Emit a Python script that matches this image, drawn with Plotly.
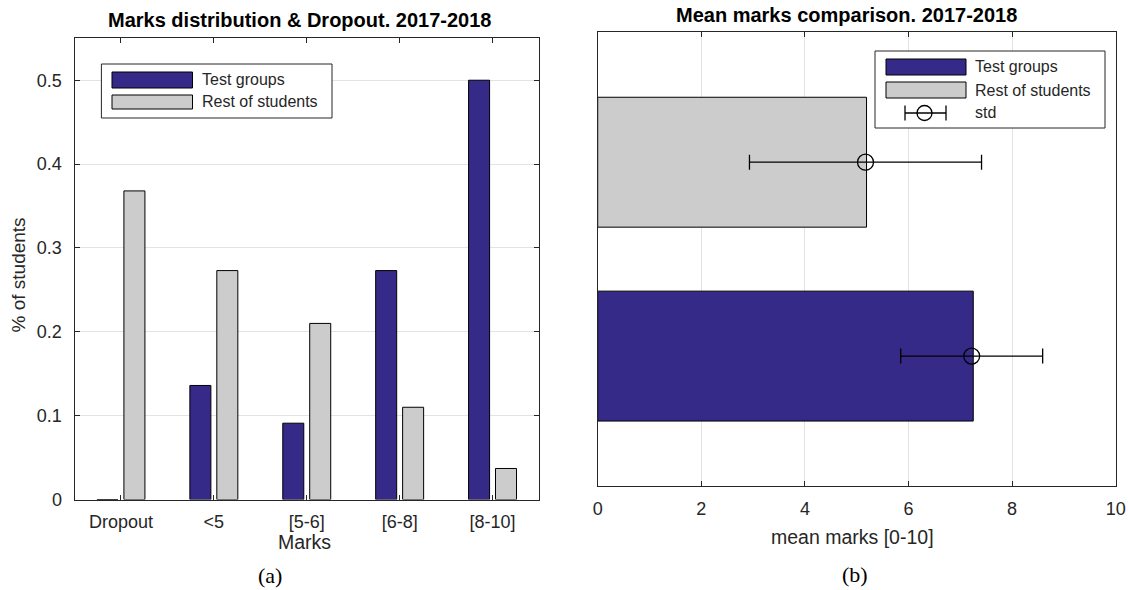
import plotly.graph_objects as go

# ---------------- data ----------------
categories = ["Dropout", "<5", "[5-6]", "[6-8]", "[8-10]"]
test_groups = [0.0, 0.136, 0.091, 0.273, 0.5]
rest_students = [0.368, 0.273, 0.21, 0.11, 0.037]

groups = ["Test groups", "Rest of students"]
mean_marks = [7.25, 5.19]
std_marks = [1.37, 2.24]
circle_pos = [7.22, 5.17]

NAVY = "#352A87"
GRAY = "#CCCCCC"
AX = "#262626"
GRID = "#E3E3E3"
FONT = "Liberation Sans, Arial, sans-serif"
SERIF = "Liberation Serif, Times New Roman, serif"

W, H = 1128, 590
def px(x):
    return x / W
def py(y):
    return 1 - y / H

fig = go.Figure()

cat_pos = list(range(1, len(categories) + 1))
fig.add_trace(go.Bar(x=cat_pos, y=test_groups, name="Test groups",
                     marker=dict(color=NAVY, line=dict(color="black", width=1)),
                     xaxis="x", yaxis="y", showlegend=False))
fig.add_trace(go.Bar(x=cat_pos, y=rest_students, name="Rest of students",
                     marker=dict(color=GRAY, line=dict(color="black", width=1)),
                     xaxis="x", yaxis="y", showlegend=False))

grp_pos = [1, 2]
fig.add_trace(go.Bar(y=[grp_pos[0]], x=[mean_marks[0]], orientation="h", width=0.67,
                     marker=dict(color=NAVY, line=dict(color="black", width=1)),
                     xaxis="x2", yaxis="y2", showlegend=False))
fig.add_trace(go.Bar(y=[grp_pos[1]], x=[mean_marks[1]], orientation="h", width=0.67,
                     marker=dict(color=GRAY, line=dict(color="black", width=1)),
                     xaxis="x2", yaxis="y2", showlegend=False))
fig.add_trace(go.Scatter(x=circle_pos, y=grp_pos, mode="markers",
                         marker=dict(symbol="circle-open", size=16, color="black",
                                     line=dict(width=1.3, color="black")),
                         error_x=dict(type="data", array=std_marks, color="black",
                                      thickness=1.3, width=7.5),
                         xaxis="x2", yaxis="y2", showlegend=False))

tickfont = dict(family=FONT, size=18, color=AX)

fig.update_layout(
    width=W, height=H,
    margin=dict(l=0, r=0, t=0, b=0, pad=0),
    paper_bgcolor="white", plot_bgcolor="white",
    barmode="group", bargap=0.42, bargroupgap=0.22,
    xaxis=dict(domain=[px(74.5), px(539)], range=[0.5, 5.5], automargin=False,
               tickvals=cat_pos, ticktext=categories,
               ticks="inside", ticklen=5, tickcolor=AX, tickfont=tickfont,
               ticklabelstandoff=6,
               showline=True, linecolor=AX, linewidth=1, mirror="ticks",
               showgrid=False, zeroline=False, fixedrange=True, anchor="y"),
    yaxis=dict(domain=[py(499.5), py(38.3)], range=[0, 0.55], automargin=False,
               tickvals=[0, 0.1, 0.2, 0.3, 0.4, 0.5],
               ticktext=["0", "0.1", "0.2", "0.3", "0.4", "0.5"],
               ticks="inside", ticklen=5, tickcolor=AX, tickfont=tickfont,
               ticklabelstandoff=8,
               showline=True, linecolor=AX, linewidth=1, mirror="ticks",
               showgrid=True, gridcolor=GRID, gridwidth=1, zeroline=False, anchor="x"),
    xaxis2=dict(domain=[px(597.7), px(1115.7)], range=[0, 10], automargin=False,
                tickvals=[0, 2, 4, 6, 8, 10],
                ticks="inside", ticklen=5, tickcolor=AX, tickfont=tickfont,
                ticklabelstandoff=6,
                showline=True, linecolor=AX, linewidth=1, mirror="ticks",
                showgrid=True, gridcolor=GRID, gridwidth=1, zeroline=False, anchor="y2"),
    yaxis2=dict(domain=[py(486), py(32.3)], range=[0.33, 2.67], automargin=False,
                showticklabels=False, ticks="",
                showline=True, linecolor=AX, linewidth=1, mirror=True,
                showgrid=False, zeroline=False, anchor="x2"),
)

shapes = []
annotations = []

def rect(x0, y0, x1, y1, fill, lw=1):
    shapes.append(dict(type="rect", xref="paper", yref="paper",
                       x0=px(x0), x1=px(x1), y0=py(y1), y1=py(y0),
                       fillcolor=fill, line=dict(color=AX if fill == "white" else "black", width=lw),
                       layer="above"))

def text(x, y, s, size=16, anchor="left", bold=False, family=FONT, color=AX, angle=0):
    annotations.append(dict(xref="paper", yref="paper", x=px(x), y=py(y),
                            text=f"<b>{s}</b>" if bold else s, showarrow=False,
                            xanchor=anchor, yanchor="middle", textangle=angle,
                            font=dict(family=family, size=size, color=color)))

# left legend
rect(101.4, 64, 332, 118, "white")
rect(112, 72, 192.5, 88, NAVY)
rect(112, 95, 192.5, 109, GRAY)
text(200, 80, "Test groups")
text(200, 102, "Rest of students")

# right legend
rect(875, 51, 1105, 128, "white")
rect(886, 59, 966, 75, NAVY)
rect(886, 82, 966, 98, GRAY)
text(972.5, 67, "Test groups")
text(972.5, 90, "Rest of students")
text(972.5, 113, "std")
shapes.append(dict(type="line", xref="paper", yref="paper", x0=px(905), x1=px(946),
                   y0=py(113), y1=py(113), line=dict(color="black", width=1.3), layer="above"))
for cx in (905, 946):
    shapes.append(dict(type="line", xref="paper", yref="paper", x0=px(cx), x1=px(cx),
                       y0=py(105.5), y1=py(120.5), line=dict(color="black", width=1.3), layer="above"))
shapes.append(dict(type="circle", xref="paper", yref="paper", x0=px(917), x1=px(932),
                   y0=py(120.5), y1=py(105.5), fillcolor="rgba(0,0,0,0)",
                   line=dict(color="black", width=1.3), layer="above"))

# axis titles
text(304, 542, "Marks", size=19.5, anchor="center")
text(852, 537, "mean marks [0-10]", size=19.5, anchor="center")
text(17.5, 275, "% of students", size=19, anchor="center", angle=-90)

# titles
text(299, 20, "Marks distribution & Dropout. 2017-2018", size=20, anchor="center", bold=True, color="black")
text(846, 15, "Mean marks comparison. 2017-2018", size=20, anchor="center", bold=True, color="black")

# captions
text(270, 575, "(a)", size=22, anchor="center", family=SERIF, color="black")
text(854.5, 574, "(b)", size=22, anchor="center", family=SERIF, color="black")

fig.update_layout(shapes=shapes, annotations=annotations)

fig.write_html("out.html")
